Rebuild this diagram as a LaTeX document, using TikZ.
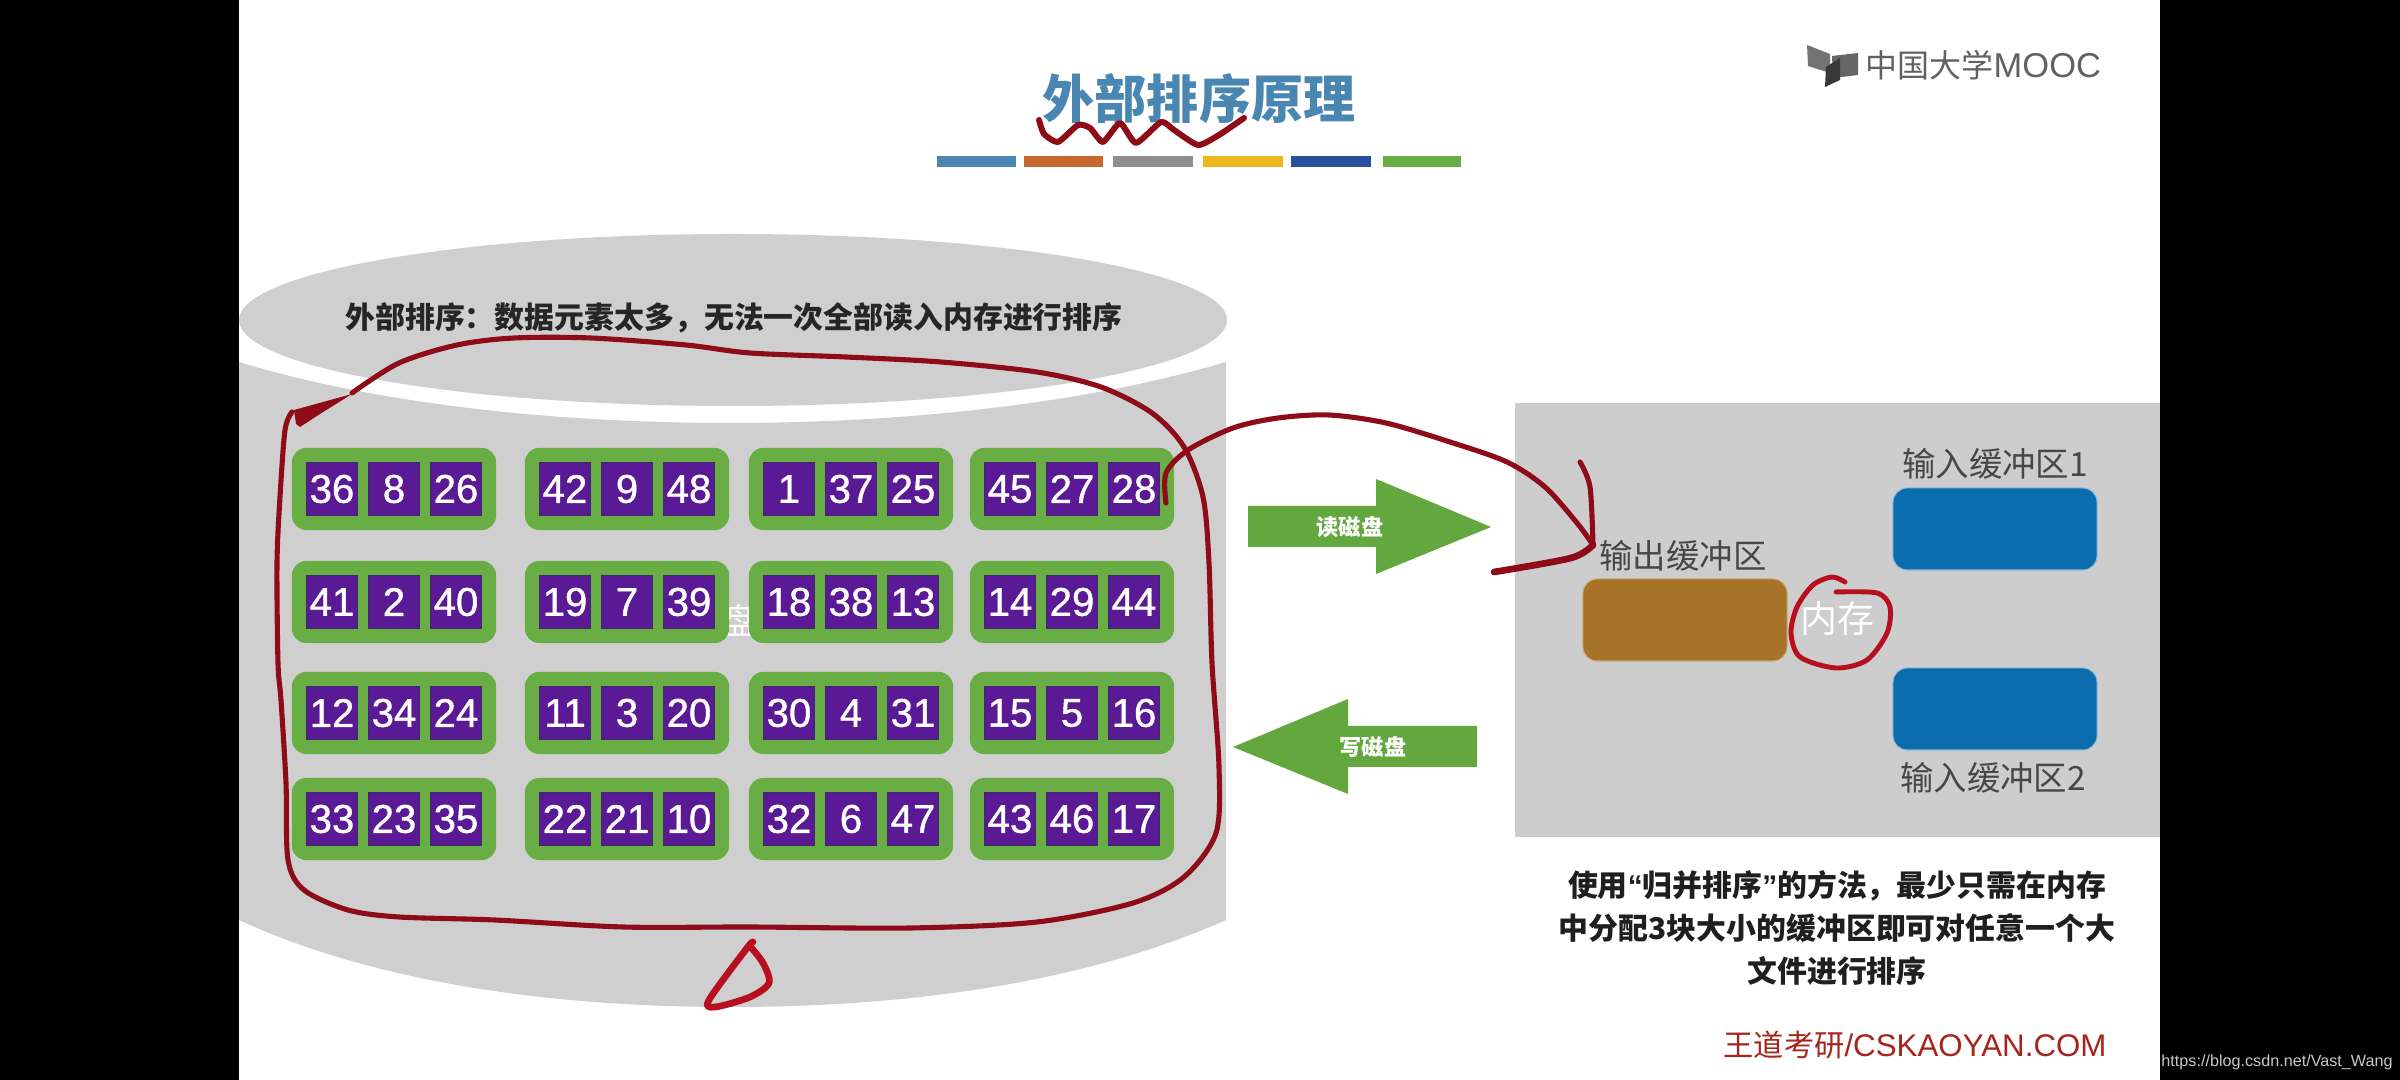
\documentclass[tikz,border=0pt]{standalone}
\usepackage{fontspec}
\newfontfamily\cjk{Noto Sans CJK SC}
\newfontfamily\arial{Liberation Sans}
\newfontfamily\numfont[FakeBold=1]{Liberation Sans}
\definecolor{diskgray}{HTML}{CFCFCF}
\definecolor{panelgray}{HTML}{CDCDCD}
\definecolor{blockgreen}{HTML}{69AE45}
\definecolor{arrowgreen}{HTML}{62A83F}
\definecolor{cellpurple}{HTML}{5A1A96}
\definecolor{celledge}{HTML}{3E2A68}
\definecolor{titleblue}{HTML}{4A86B2}
\definecolor{barorange}{HTML}{C9682E}
\definecolor{bargray}{HTML}{8F8F8F}
\definecolor{baryellow}{HTML}{EDB81C}
\definecolor{barblue}{HTML}{2A4F9C}
\definecolor{outbrown}{HTML}{A67329}
\definecolor{inblue}{HTML}{0B6CAE}
\definecolor{inkred}{HTML}{8E0B18}
\definecolor{markred}{HTML}{B80F1E}
\definecolor{siteRed}{HTML}{A5241C}
\tikzset{
	blockbox/.style={fill=blockgreen, rounded corners=4pt, minimum width=2.04cm, minimum height=0.82cm, inner sep=0pt},
	numcell/.style={fill=cellpurple, draw=celledge, line width=0.4pt, minimum width=0.51cm, minimum height=0.53cm, inner sep=0pt, text=white, font=\numfont\fontsize{11.4}{12}\selectfont},
	bufbox/.style={rounded corners=4pt, minimum width=2.04cm, minimum height=0.82cm, inner sep=0pt},
	buflabel/.style={inner sep=0pt, text=black!72, font=\cjk\fontsize{9.5}{11}\selectfont},
	arrowlabel/.style={inner sep=0pt, text=white, font=\cjk\bfseries\fontsize{6.3}{8}\selectfont},
	redpen/.style={inkred, line width=1.45pt, line cap=round, line join=round},
}
\begin{document}
\begin{tikzpicture}[x=0.01cm, y=-0.01cm, >=stealth]

	\useasboundingbox (0,0) rectangle (2400,1080);
	\fill[black] (0,0) rectangle (2400,1080);
	\fill[white] (239,0) rectangle (2160,1080);

	\fill[diskgray] (239,362) .. controls (380,405) and (560,423) .. (731,423) .. controls (900,423) and (1080,405) .. (1226,362) -- (1226,920) .. controls (1080,985) and (900,1007) .. (731,1007) .. controls (560,1007) and (380,985) .. (239,920) -- cycle;
	\fill[diskgray] (733,320) ellipse [x radius=494, y radius=86];
	\node[inner sep=0pt, text=black!85, font=\cjk\bfseries\fontsize{8.5}{10}\selectfont] (disknote) at (734,318) {外部排序：数据元素太多，无法一次全部读入内存进行排序};
	\node[inner sep=0pt, text=white, font=\cjk\fontsize{10}{12}\selectfont] (disklabel) at (739,620) {盘};

	\foreach \gx/\gy/\na/\nb/\nc [count=\k] in {
		394/489/36/8/26, 627/489/42/9/48, 851/489/1/37/25, 1072/489/45/27/28,
		394/602/41/2/40, 627/602/19/7/39, 851/602/18/38/13, 1072/602/14/29/44,
		394/713/12/34/24, 627/713/11/3/20, 851/713/30/4/31, 1072/713/15/5/16,
		394/819/33/23/35, 627/819/22/21/10, 851/819/32/6/47, 1072/819/43/46/17}{
		\node[blockbox] (block\k) at (\gx,\gy) {};
		\node[numcell] (num\k a) at (\gx-62,\gy) {\na};
		\node[numcell] (num\k b) at (\gx,\gy) {\nb};
		\node[numcell] (num\k c) at (\gx+62,\gy) {\nc};
	}

	\node[inner sep=0pt, text=titleblue, font=\cjk\bfseries\fontsize{14.8}{16}\selectfont] (title) at (1199,99) {外部排序原理};
	\fill[titleblue] (937,156) rectangle (1016,167);
	\fill[barorange] (1024,156) rectangle (1103,167);
	\fill[bargray] (1113,156) rectangle (1193,167);
	\fill[baryellow] (1203,156) rectangle (1283,167);
	\fill[barblue] (1291,156) rectangle (1371,167);
	\fill[blockgreen] (1383,156) rectangle (1461,167);

	\fill[black!55] (1807,45) -- (1830,54) -- (1830,73) -- (1808,66) -- cycle;
	\fill[black!60] (1832,56) -- (1858,53) -- (1858,75) -- (1833,78) -- cycle;
	\fill[black!78] (1840,58) -- (1840,80) -- (1825,87) -- (1826,67) -- cycle;
	\node[inner sep=0pt, anchor=west, text=black!62] (mooc) at (1865,65) {\cjk\fontsize{9.1}{11}\selectfont 中国大学\arial\fontsize{9.8}{11}\selectfont MOOC};

	\fill[arrowgreen] (1248,506) -- (1376,506) -- (1376,479) -- (1491,527) -- (1376,574) -- (1376,547) -- (1248,547) -- cycle;
	\node[arrowlabel] (readlabel) at (1350,527) {读磁盘};
	\fill[arrowgreen] (1477,726) -- (1348,726) -- (1348,699) -- (1233,747) -- (1348,794) -- (1348,767) -- (1477,767) -- cycle;
	\node[arrowlabel] (writelabel) at (1373,747) {写磁盘};

	\fill[panelgray] (1515,403) rectangle (2160,837);
	\node[bufbox, fill=outbrown, draw=outbrown!60!white, line width=0.3pt] (outbuf) at (1685,620) {};
	\node[bufbox, fill=inblue, draw=inblue!45!white, line width=0.3pt] (inbufa) at (1995,529) {};
	\node[bufbox, fill=inblue, draw=inblue!45!white, line width=0.3pt] (inbufb) at (1995,709) {};
	\node[buflabel] (outlabel) at (1683,556) {输出缓冲区};
	\node[buflabel] (inlabela) at (1995,464) {输入缓冲区1};
	\node[buflabel] (inlabelb) at (1993,778) {输入缓冲区2};
	\node[inner sep=0pt, text=white, font=\cjk\fontsize{10.5}{12}\selectfont] (memlabel) at (1837,619) {内存};

	\node[inner sep=0pt, align=center, text=black!88, font=\cjk\bfseries\fontsize{8.5}{12.1}\selectfont] (summary) at (1837,928) {使用{\arial\bfseries “}归并排序{\arial\bfseries ”}的方法，最少只需在内存\\中分配3块大小的缓冲区即可对任意一个大\\文件进行排序};
	\node[inner sep=0pt, text=siteRed] (site) at (1915,1045) {\cjk\fontsize{8.6}{10}\selectfont 王道考研\arial\fontsize{8.9}{10}\selectfont /CSKAOYAN.COM};
	\node[inner sep=0pt, text=black!22, font=\arial\fontsize{4.6}{6}\selectfont] (blogurl) at (2277,1062) {https://blog.csdn.net/Vast\_Wang};

	\draw[redpen, line width=1.7pt] plot[smooth, tension=0.35] coordinates {(1039,120) (1044,134) (1058,142) (1078,125) (1090,128) (1103,142) (1120,123) (1136,143) (1161,122) (1174,130) (1198,145) (1219,135) (1244,118)};
	\draw[redpen] plot[smooth] coordinates {(352,393) (399,363) (457,345) (514,338) (591,338) (686,345) (750,353) (846,357) (941,362) (1037,372) (1101,387) (1152,413) (1184,447) (1203,497) (1209,563) (1212,663) (1219,767) (1216,833) (1184,877) (1133,903) (1037,922) (910,928) (750,927) (623,927) (495,920) (399,917) (348,910) (304,890) (288,860) (286,783) (281,700) (278,663) (277,563) (280,497) (285,430) (292,412)};
	\fill[inkred] (294,410) -- (352,394) -- (320,414) -- (300,427) -- (296,424) -- cycle;
	\draw[redpen] plot[smooth] coordinates {(1166,503) (1166,473) (1188,450) (1233,428) (1278,418) (1329,415) (1386,423) (1450,442) (1507,462) (1545,487) (1577,523) (1593,545)};
	\draw[redpen] plot[smooth] coordinates {(1580,462) (1590,487) (1593,545)};
	\draw[redpen, line width=1.9pt] plot[smooth] coordinates {(1593,545) (1571,558) (1494,572)};
	\draw[redpen, markred, line width=1.4pt] plot[smooth] coordinates {(1845,582) (1832,577) (1813,585) (1797,607) (1791,633) (1800,657) (1836,668) (1867,660) (1887,633) (1890,607) (1877,593) (1836,592)};
	\draw[redpen, markred, line width=1.9pt] plot[smooth] coordinates {(753,942) (747,948) (709,1000) (715,1007) (750,997) (769,983) (763,963) (749,945)};

\end{tikzpicture}
\end{document}
